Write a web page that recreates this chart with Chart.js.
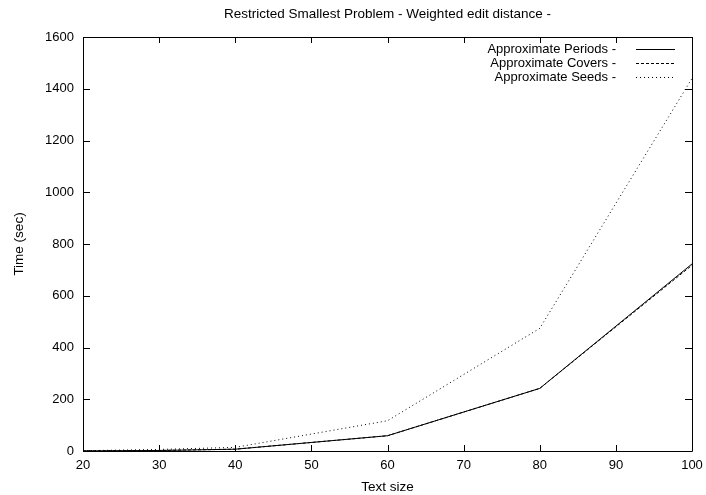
<!DOCTYPE html>
<html>
<head>
<meta charset="utf-8">
<script src="https://cdn.jsdelivr.net/npm/chart.js@4/dist/chart.umd.min.js"></script>
<style>
  html, body { margin: 0; padding: 0; background: #fff; }
  #wrap { width: 706px; height: 495px; }
</style>
</head>
<body>
<div id="wrap"><canvas id="timeChart"></canvas></div>
<script>
const textSizes = [20, 30, 40, 60, 80, 100];
const periodsTime = [0.5, 2, 7, 59, 242, 723];
const coversTime = [0.5, 2, 7, 59, 242, 718];
const seedsTime = [1, 6, 14, 117, 474, 1440];

const xTicks = [20, 30, 40, 50, 60, 70, 80, 90, 100];
const yTicks = [0, 200, 400, 600, 800, 1000, 1200, 1400, 1600];

const FONT = '"Liberation Sans", Arial, Helvetica, sans-serif';

function toPoints(ys) {
    return textSizes.map((x, i) => ({ x: x, y: ys[i] }));
}

const series = [
    { label: 'Approximate Periods -', data: periodsTime, dash: [] },
    { label: 'Approximate Covers -', data: coversTime, dash: [3, 2] },
    { label: 'Approximate Seeds -', data: seedsTime, dash: [1, 3] }
];

// gnuplot style frame: box with inward ticks on all four sides + legend
const gnuFrame = {
    id: 'gnuFrame',
    afterDatasetsDraw(chart) {
        const ctx = chart.ctx;
        const a = chart.chartArea;
        const xs = chart.scales.x, ys = chart.scales.y;
        ctx.save();
        ctx.strokeStyle = '#000';
        ctx.lineWidth = 1;
        ctx.setLineDash([]);
        ctx.beginPath();
        ctx.rect(Math.round(a.left) + 0.5, Math.round(a.top) + 0.5,
                 Math.round(a.right - a.left), Math.round(a.bottom - a.top));
        xs.ticks.forEach(t => {
            const px = Math.round(xs.getPixelForValue(t.value)) + 0.5;
            ctx.moveTo(px, a.bottom); ctx.lineTo(px, a.bottom - 6);
            ctx.moveTo(px, a.top); ctx.lineTo(px, a.top + 6);
        });
        ys.ticks.forEach(t => {
            const py = Math.round(ys.getPixelForValue(t.value)) + 0.5;
            ctx.moveTo(a.left, py); ctx.lineTo(a.left + 7, py);
            ctx.moveTo(a.right, py); ctx.lineTo(a.right - 7, py);
        });
        ctx.stroke();

        // legend
        ctx.font = '13px ' + FONT;
        ctx.fillStyle = '#000';
        ctx.textAlign = 'right';
        ctx.textBaseline = 'middle';
        chart.data.datasets.forEach((ds, i) => {
            const y = Math.round(a.top + 12 + i * 14) + 0.5;
            ctx.fillText(ds.label, a.right - 76, y);
            ctx.beginPath();
            ctx.setLineDash(ds.borderDash || []);
            ctx.moveTo(a.right - 56, y);
            ctx.lineTo(a.right - 17, y);
            ctx.stroke();
        });
        ctx.restore();
    }
};

new Chart(document.getElementById('timeChart'), {
    type: 'line',
    data: {
        datasets: series.map(s => ({
            label: s.label,
            data: toPoints(s.data),
            borderColor: '#000',
            backgroundColor: '#000',
            borderWidth: 1,
            borderDash: s.dash,
            pointRadius: 0,
            tension: 0,
            fill: false
        }))
    },
    options: {
        responsive: true,
        maintainAspectRatio: false,
        animation: false,
        layout: { padding: { left: 0, right: 14, top: 0, bottom: 0 } },
        plugins: {
            legend: { display: false },
            tooltip: { enabled: false }
        },
        scales: {
            x: {
                type: 'linear',
                min: 20,
                max: 100,
                afterBuildTicks: s => { s.ticks = xTicks.map(v => ({ value: v })); },
                afterFit: s => { s.height = 44; s.paddingLeft = 0; s.paddingRight = 0; },
                grid: { display: false, drawTicks: false },
                border: { display: false },
                ticks: { color: '#000', padding: 7, font: { family: FONT, size: 13 } },
                title: {
                    display: true, text: 'Text size', color: '#000',
                    font: { family: FONT, size: 13.5 }, padding: { top: 0, bottom: 0 }
                }
            },
            // top axis only carries the chart title, centred over the plot like gnuplot
            xTop: {
                type: 'linear',
                position: 'top',
                min: 20,
                max: 100,
                afterFit: s => { s.height = 37; s.paddingLeft = 0; s.paddingRight = 0; },
                grid: { display: false, drawTicks: false },
                border: { display: false },
                ticks: { display: false },
                title: {
                    display: true,
                    text: 'Restricted Smallest Problem - Weighted edit distance -',
                    color: '#000',
                    font: { family: FONT, size: 13.5 },
                    padding: { top: 6, bottom: 0 }
                }
            },
            y: {
                type: 'linear',
                min: 0,
                max: 1600,
                afterBuildTicks: s => { s.ticks = yTicks.map(v => ({ value: v })); },
                afterFit: s => { s.width = 83; s.paddingTop = 0; s.paddingBottom = 0; },
                grid: { display: false, drawTicks: false },
                border: { display: false },
                ticks: {
                    color: '#000', padding: 9, font: { family: FONT, size: 13 },
                    callback: v => String(v)
                },
                title: {
                    display: true, text: 'Time (sec)', color: '#000',
                    font: { family: FONT, size: 13.5 }, padding: { top: 11, bottom: 0 }
                }
            }
        }
    },
    plugins: [gnuFrame]
});
</script>
</body>
</html>
